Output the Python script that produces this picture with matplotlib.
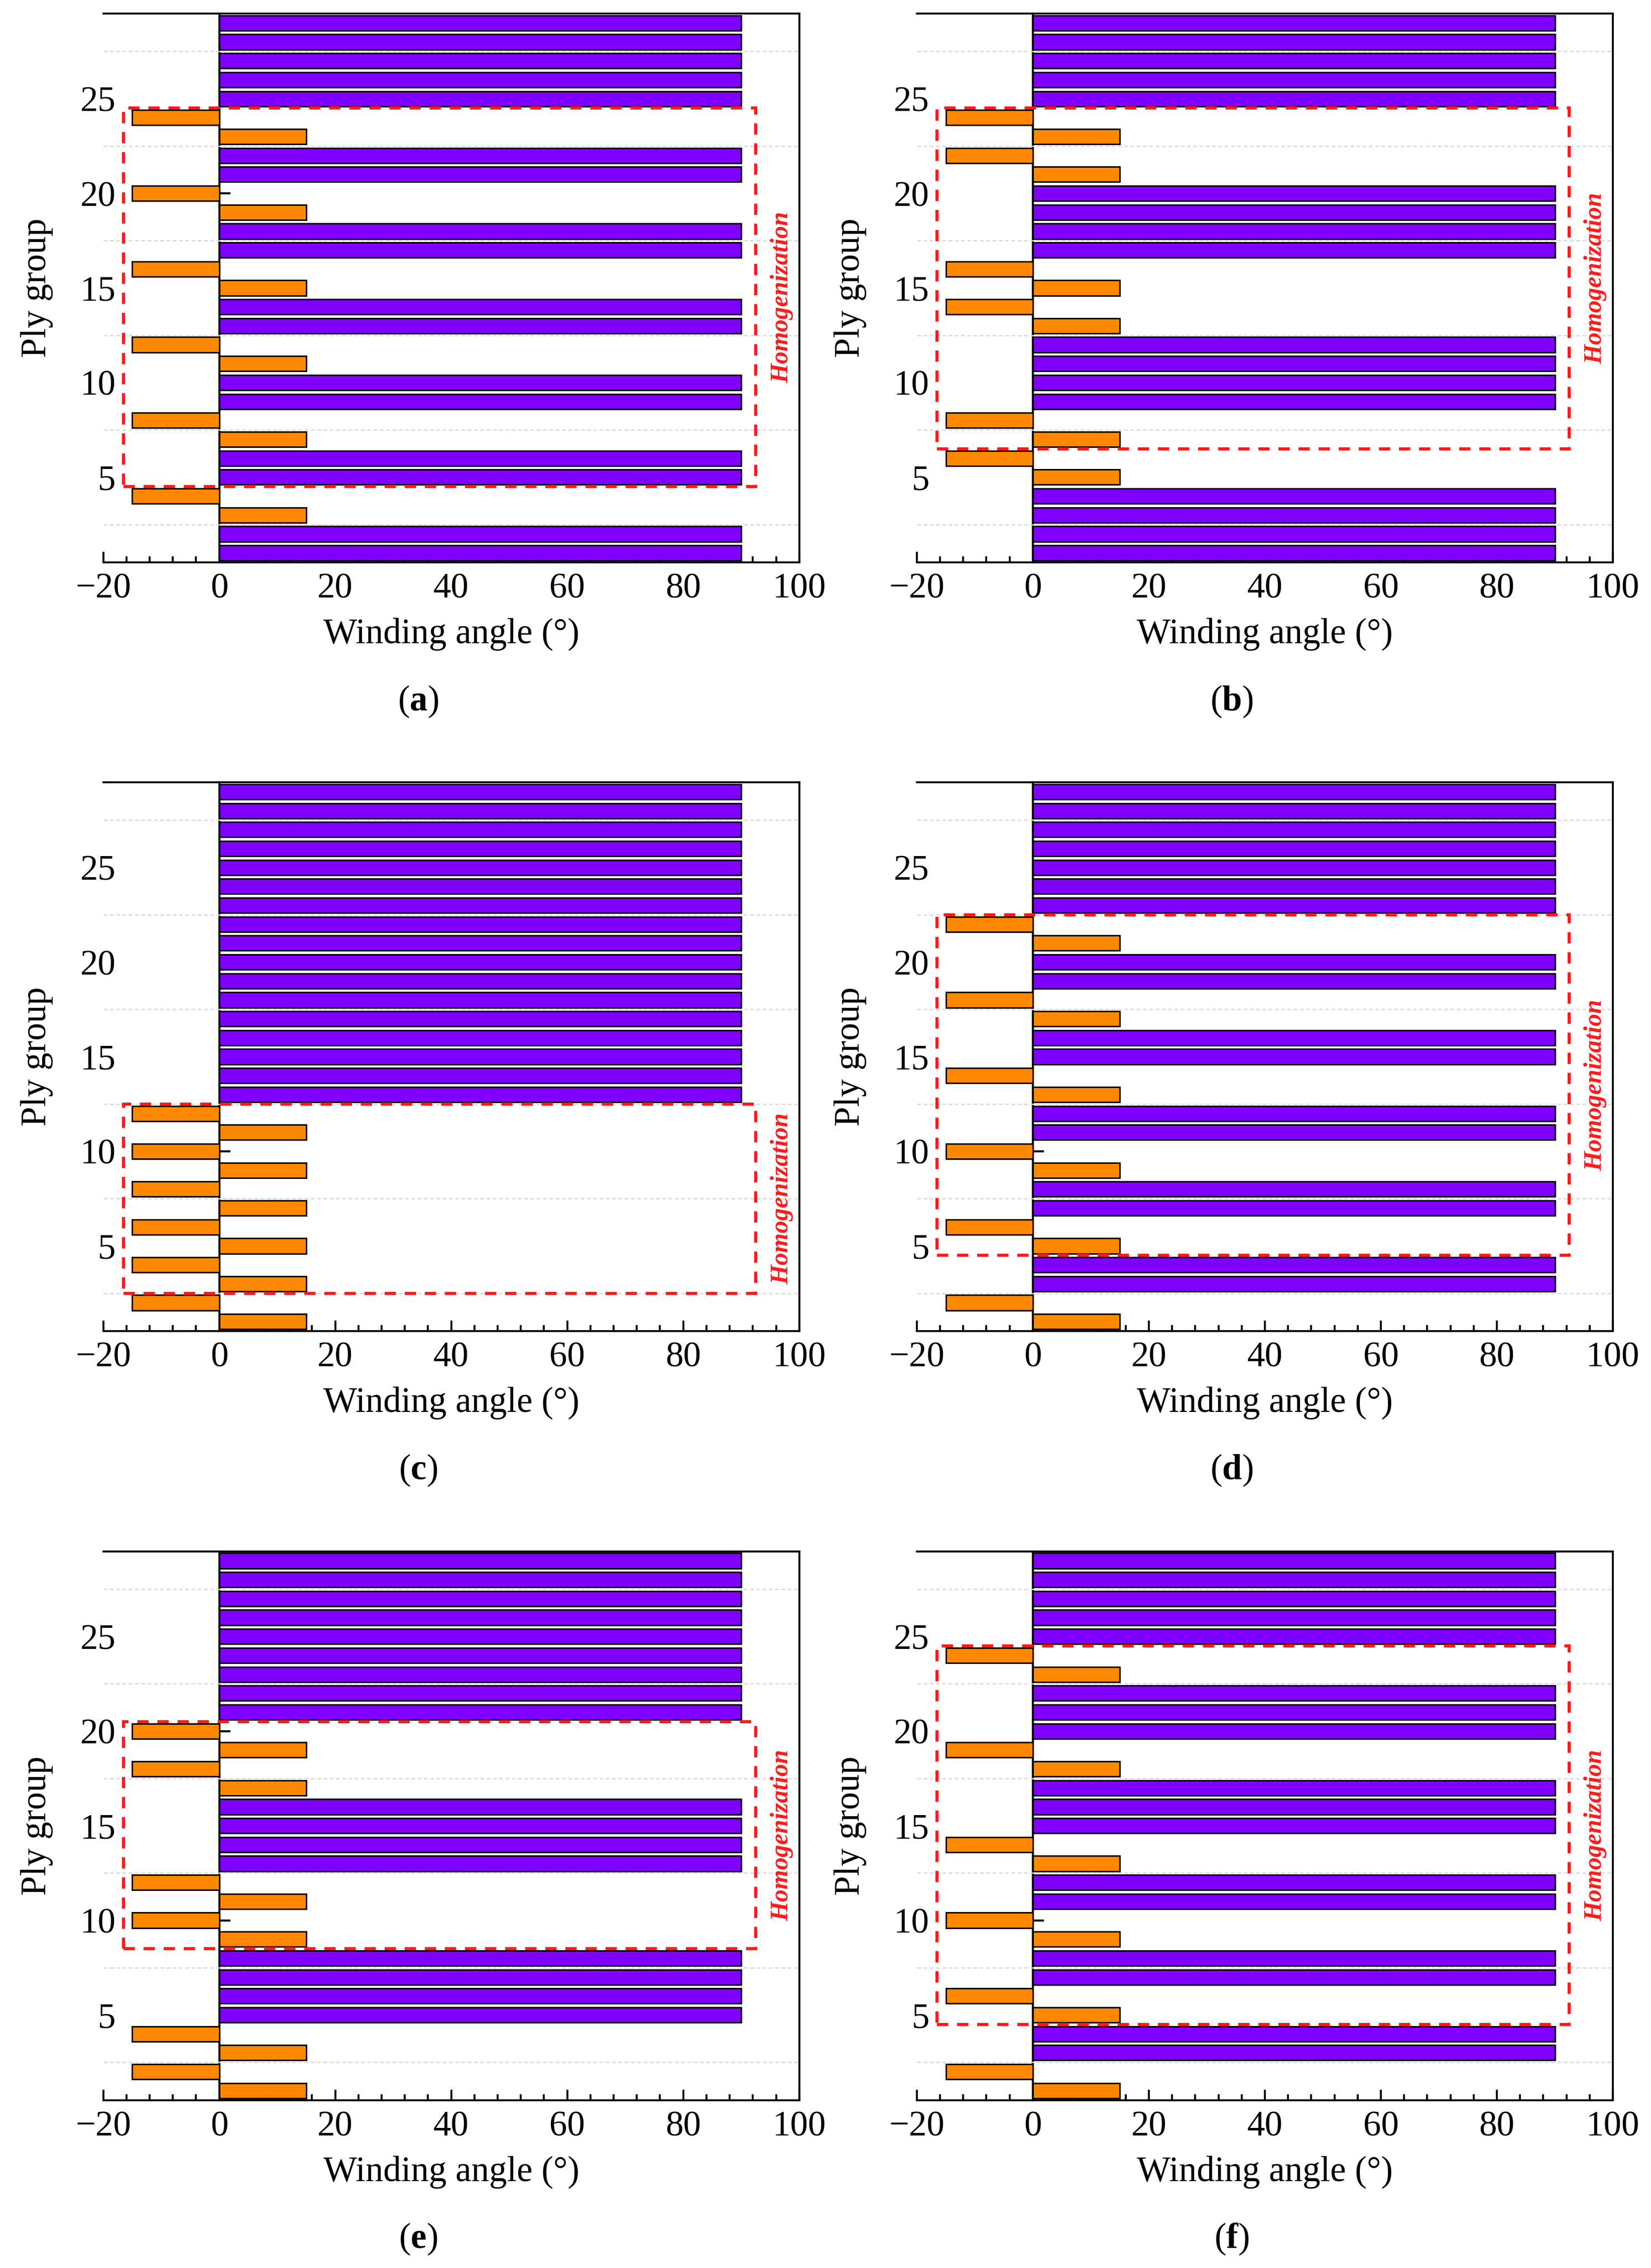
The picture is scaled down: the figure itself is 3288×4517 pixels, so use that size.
import matplotlib
matplotlib.use("Agg")
import matplotlib.pyplot as plt
from matplotlib.patches import Rectangle
from matplotlib.ticker import MultipleLocator

plt.rcParams['font.family'] = ['Liberation Serif', 'DejaVu Serif']
plt.rcParams['mathtext.fontset'] = 'custom'
plt.rcParams['mathtext.rm'] = 'Liberation Serif'
plt.rcParams['mathtext.bf'] = 'Liberation Serif:bold'

# ply groups, bottom to top
ply = list(range(1, 30))

angles_a = [90, 90, 15, -15, 90, 90, 15, -15, 90, 90, 15, -15, 90, 90, 15, -15,
            90, 90, 15, -15, 90, 90, 15, -15, 90, 90, 90, 90, 90]
angles_b = [90, 90, 90, 90, 15, -15, 15, -15, 90, 90, 90, 90, 15, -15, 15, -15,
            90, 90, 90, 90, 15, -15, 15, -15, 90, 90, 90, 90, 90]
angles_c = [15, -15, 15, -15, 15, -15, 15, -15, 15, -15, 15, -15, 90, 90, 90, 90,
            90, 90, 90, 90, 90, 90, 90, 90, 90, 90, 90, 90, 90]
angles_d = [15, -15, 90, 90, 15, -15, 90, 90, 15, -15, 90, 90, 15, -15, 90, 90,
            15, -15, 90, 90, 15, -15, 90, 90, 90, 90, 90, 90, 90]
angles_e = [15, -15, 15, -15, 90, 90, 90, 90, 15, -15, 15, -15, 90, 90, 90, 90,
            15, -15, 15, -15, 90, 90, 90, 90, 90, 90, 90, 90, 90]
angles_f = [15, -15, 90, 90, 15, -15, 90, 90, 15, -15, 90, 90, 15, -15, 90, 90,
            90, 15, -15, 90, 90, 90, 15, -15, 90, 90, 90, 90, 90]

# homogenization zone (ply range) for each case
zones = {
    'a': (4.5, 24.5),
    'b': (6.5, 24.5),
    'c': (2.5, 12.5),
    'd': (4.5, 22.5),
    'e': (8.5, 20.5),
    'f': (4.5, 24.5),
}
zone_x = (-16.5, 92.5)

panels = [('a', angles_a), ('b', angles_b), ('c', angles_c),
          ('d', angles_d), ('e', angles_e), ('f', angles_f)]

PURPLE = '#8000ff'
ORANGE = '#ff8800'

fig = plt.figure(figsize=(3288 / 300, 4517 / 300), dpi=300)

col_left = [0.0625, 0.5553]
row_bottom = [0.75205, 0.41310, 0.07403]
w, h = 0.4216, 0.24197

for i, (letter, angles) in enumerate(panels):
    r, c = divmod(i, 2)
    ax = fig.add_axes([col_left[c], row_bottom[r], w, h])

    colors = [PURPLE if v == 90 else ORANGE for v in angles]
    ax.barh(ply, angles, height=0.8, color=colors, edgecolor='black',
            linewidth=0.7, zorder=2)

    ax.set_xlim(-20, 100)
    ax.set_ylim(0.5, 29.5)
    ax.set_xticks(range(-20, 101, 20))
    ax.xaxis.set_minor_locator(MultipleLocator(4))
    ax.set_yticks([5, 10, 15, 20, 25])
    ax.set_yticks([2.5, 7.5, 12.5, 17.5, 22.5, 27.5], minor=True)
    ax.grid(which='minor', axis='y', color='#d9d9d9', linestyle=(0, (3, 2)),
            linewidth=0.6, zorder=0)

    ax.tick_params(axis='x', which='major', direction='in', length=5,
                   width=0.9, labelsize=17, pad=5, top=False)
    ax.tick_params(axis='x', which='minor', direction='in', length=2.8,
                   width=0.9, top=False)
    ax.tick_params(axis='y', which='both', length=0, labelsize=17, pad=-6)

    ax.spines['left'].set_visible(False)
    for side in ('top', 'right', 'bottom'):
        ax.spines[side].set_linewidth(0.9)

    # y axis line at x = 0, ticks pointing inwards
    sec = ax.secondary_yaxis(20 / 120)
    sec.set_yticks([5, 10, 15, 20, 25])
    sec.tick_params(axis='y', direction='in', length=5.2, width=1.0,
                    labelleft=False, labelright=False)
    sec.spines['left'].set_linewidth(1.0)

    y0, y1 = zones[letter]
    ax.add_patch(Rectangle((zone_x[0], y0), zone_x[1] - zone_x[0], y1 - y0,
                           fill=False, edgecolor='#ff1a1a', linewidth=1.5,
                           linestyle=(0, (3.6, 2.8)), zorder=3))
    ax.text(97, (y0 + y1) / 2, 'Homogenization', rotation=90, color='#ff1a1a',
            fontsize=12, fontweight='bold', fontstyle='italic',
            ha='center', va='center')

    ax.set_xlabel('Winding angle (°)', fontsize=17)
    ax.set_ylabel('Ply group', fontsize=17)
    ax.xaxis.label.set_va('center')
    ax.yaxis.label.set_va('center')
    ax.xaxis.set_label_coords(0.5, -0.131)
    ax.yaxis.set_label_coords(-0.0953, 0.5)

    fig.text(col_left[c] + 0.1907, row_bottom[r] - 0.0613,
             r'($\mathbf{' + letter + '}$)', fontsize=17,
             ha='center', va='center')

fig.savefig('out.png', dpi=300)
